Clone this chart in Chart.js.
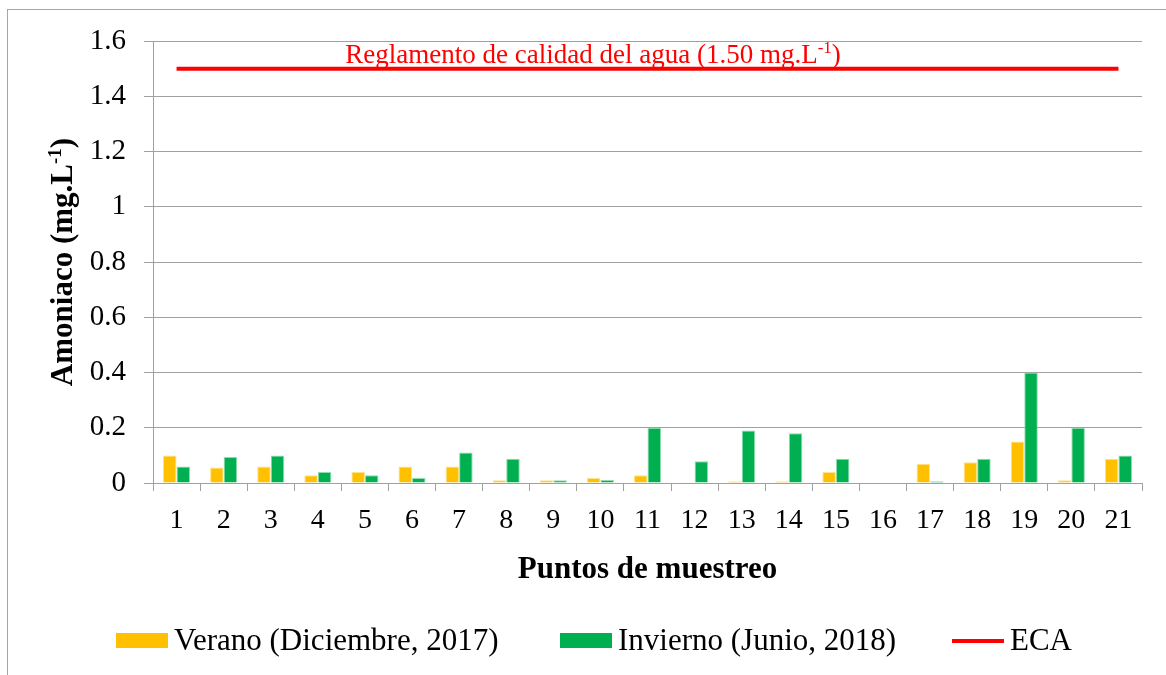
<!DOCTYPE html>
<html lang="es">
<head>
<meta charset="UTF-8">
<title>Amoniaco por punto de muestreo</title>
<script src="https://cdn.jsdelivr.net/npm/chart.js"></script>
<style>
  body { margin: 0; background: #fff; }
  #wrap { position: relative; width: 1166px; height: 675px; overflow: hidden; }
  #marco { position: absolute; left: 7px; top: 9px; width: 1200px; height: 700px; border: 1px solid #a6a6a6; }
  #grafico { position: absolute; left: 0; top: 0; }
  #leyenda { position: absolute; left: 0; top: 621px; width: 1166px; height: 38px;
             font-family: "Liberation Serif", "Times New Roman", serif; font-size: 31px; color: #000; }
  .item { position: absolute; top: 0; height: 38px; }
  .caja { position: absolute; left: 0; top: 12px; width: 52px; height: 15px; }
  .linea { position: absolute; left: 0; top: 18px; width: 52px; height: 4px; }
  .txt { position: absolute; left: 58px; top: 0; line-height: 38px; white-space: nowrap; }
</style>
</head>
<body>
<div id="wrap">
  <div id="marco"></div>
  <canvas id="grafico" width="1166" height="675"></canvas>
  <div id="leyenda"></div>
</div>

<script>
// puntos de muestreo
var puntos = ['1','2','3','4','5','6','7','8','9','10','11','12','13','14','15','16','17','18','19','20','21'];
// Verano (Diciembre, 2017)
var verano = [0.10, 0.056, 0.06, 0.028, 0.04, 0.06, 0.06, 0.01, 0.01, 0.018, 0.028, 0.001, 0.006, 0.006, 0.04, 0.002, 0.07, 0.075, 0.15, 0.01, 0.088];
// Invierno (Junio, 2018)
var invierno = [0.06, 0.094, 0.10, 0.04, 0.028, 0.018, 0.11, 0.088, 0.01, 0.011, 0.20, 0.079, 0.19, 0.18, 0.088, 0.002, 0.006, 0.088, 0.40, 0.20, 0.10];
// limite ECA
var eca = [1.5, 1.5, 1.5, 1.5, 1.5, 1.5, 1.5, 1.5, 1.5, 1.5, 1.5, 1.5, 1.5, 1.5, 1.5, 1.5, 1.5, 1.5, 1.5, 1.5, 1.5];
var ticksY = ['0', '0.2', '0.4', '0.6', '0.8', '1', '1.2', '1.4', '1.6'];

var fuente = '"Liberation Serif", "Times New Roman", serif';
var gris = '#a0a0a0';

// escribe texto con un superindice "-1" en medio
function textoSup(ctx, x, y, antes, sup, despues, tam, negrita) {
    var f = (negrita ? 'bold ' : '') + tam + 'px ' + fuente;
    var fs = (negrita ? 'bold ' : '') + Math.round(tam * 0.62) + 'px ' + fuente;
    ctx.font = f;
    var w1 = ctx.measureText(antes).width;
    var w3 = ctx.measureText(despues).width;
    ctx.font = fs;
    var w2 = ctx.measureText(sup).width;
    var x0 = x - (w1 + w2 + w3) / 2;
    ctx.textAlign = 'left';
    ctx.textBaseline = 'alphabetic';
    ctx.font = f;
    ctx.fillText(antes, x0, y);
    ctx.font = fs;
    ctx.fillText(sup, x0 + w1, y - tam * 0.36);
    ctx.font = f;
    ctx.fillText(despues, x0 + w1 + w2, y);
}

var textos = {
    id: 'textos',
    afterDraw: function(chart) {
        var ctx = chart.ctx;
        var a = chart.chartArea;
        var ys = chart.scales.y;
        ctx.save();
        // nota del reglamento
        ctx.fillStyle = '#ff0000';
        textoSup(ctx, a.left + (a.right - a.left) * 0.445, ys.getPixelForValue(1.5) - 6,
            'Reglamento de calidad del agua (1.50 mg.L', '-1', ')', 27, false);
        // titulo del eje y
        ctx.fillStyle = '#000';
        ctx.translate(72, (a.top + a.bottom) / 2);
        ctx.rotate(-Math.PI / 2);
        textoSup(ctx, 0, 0, 'Amoniaco (mg.L', '-1', ')', 31, true);
        ctx.restore();
    }
};

var ctx = document.getElementById('grafico').getContext('2d');
var chart = new Chart(ctx, {
    data: {
        labels: puntos,
        datasets: [{
            type: 'bar',
            label: 'Verano (Diciembre, 2017)',
            data: verano,
            backgroundColor: '#ffc000',
            borderColor: '#ffe38a',
            borderWidth: 1,
            barPercentage: 1,
            categoryPercentage: 0.575,
            order: 2
        }, {
            type: 'bar',
            label: 'Invierno (Junio, 2018)',
            data: invierno,
            backgroundColor: '#00b050',
            borderColor: '#8fdcae',
            borderWidth: 1,
            barPercentage: 1,
            categoryPercentage: 0.575,
            order: 2
        }, {
            type: 'line',
            label: 'ECA',
            data: eca,
            borderColor: '#ff0000',
            backgroundColor: '#ff0000',
            borderWidth: 4,
            pointRadius: 0,
            fill: false,
            order: 1
        }]
    },
    options: {
        responsive: false,
        animation: false,
        layout: { padding: { left: 0, top: 41, right: 24, bottom: 0 } },
        plugins: {
            tooltip: { enabled: false },
            legend: { display: false }
        },
        scales: {
            x: {
                offset: true,
                afterFit: function(s) { s.height = 192; },
                grid: { offset: true, drawOnChartArea: false, drawTicks: true, tickLength: 8, color: gris },
                border: { color: gris },
                ticks: { color: '#000', font: { family: fuente, size: 28 }, padding: 13, maxRotation: 0 },
                title: { display: true, text: 'Puntos de muestreo', color: '#000',
                         font: { family: fuente, size: 31, weight: 'bold' }, padding: { top: 0, bottom: 86 } }
            },
            y: {
                min: 0,
                max: 1.6,
                afterFit: function(s) { s.width = 153; },
                grid: { color: gris, tickLength: 9 },
                border: { color: gris },
                ticks: {
                    stepSize: 0.2,
                    color: '#000',
                    font: { family: fuente, size: 29 },
                    padding: 18,
                    callback: function(v, i) { return ticksY[i]; }
                }
            }
        }
    },
    plugins: [textos]
});

// leyenda hecha a partir de los datasets
var posLeyenda = [116, 560, 952];
var leyenda = document.getElementById('leyenda');
chart.data.datasets.forEach(function(ds, i) {
    var item = document.createElement('div');
    item.className = 'item';
    item.style.left = posLeyenda[i] + 'px';
    var marca = document.createElement('span');
    marca.className = ds.type === 'line' ? 'linea' : 'caja';
    marca.style.background = ds.type === 'line' ? ds.borderColor : ds.backgroundColor;
    var txt = document.createElement('span');
    txt.className = 'txt';
    txt.textContent = ds.label;
    item.appendChild(marca);
    item.appendChild(txt);
    leyenda.appendChild(item);
});
</script>
</body>
</html>
